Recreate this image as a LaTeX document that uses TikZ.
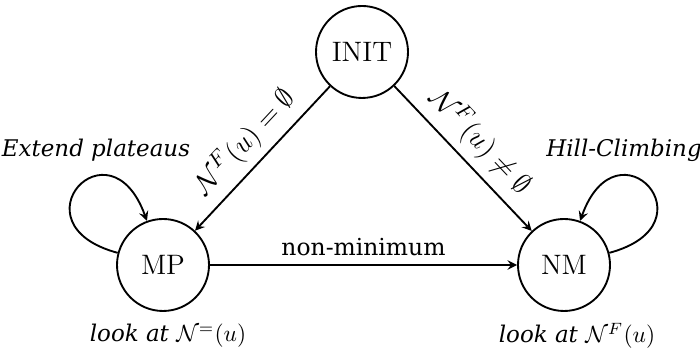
\documentclass[tikz,border=0pt]{standalone}
\usepackage{amsmath}
\usepackage{amssymb}
\usepackage{fontspec}
\newfontfamily\notefont{DejaVu Serif}
\usetikzlibrary{arrows,positioning}

\begin{document}
\begin{tikzpicture}[
    every node/.style={align=center},
    state/.style={circle, draw, thick, minimum size=1.38cm, inner sep=0pt, font=\large},
    arrow/.style={thick,->,>=stealth},
    note/.style={font=\notefont\itshape\fontsize{9.8}{12}\selectfont},
    cond/.style={font=\fontsize{13}{15}\selectfont, sloped, above}
]
\useasboundingbox (0,0) rectangle (10.5,5.265);

% States
\node[state] (init) at (5.43,4.485) {INIT};
\node[state] (mp) at (2.445,1.29) {MP};
\node[state] (nm) at (8.46,1.29) {NM};

% Notes
\node[note] (extend) at (1.44,3.015) {Extend plateaus};
\node[note] (climb) at (9.36,3.015) {Hill-Climbing};
\node[note] (lookmp) at (2.52,0.23) {look at $\mathcal{N}^{=}(u)$};
\node[note] (looknm) at (8.655,0.23) {look at $\mathcal{N}^{F}(u)$};

% Transitions
\draw[arrow] (init) -- (mp) node[cond, midway] {$\mathcal{N}^F(u) = \emptyset$};
\draw[arrow] (init) -- (nm) node[cond, midway] {$\mathcal{N}^F(u) \neq \emptyset$};
\draw[arrow] (mp) -- (nm) node[midway, above, font=\notefont\fontsize{10}{12}\selectfont] {non-minimum};

% Self loops
\draw[arrow] (mp) to[out=165, in=110, distance=1.65cm] (mp);
\draw[arrow] (nm) to[out=15, in=70, distance=1.65cm] (nm);

\end{tikzpicture}
\end{document}
